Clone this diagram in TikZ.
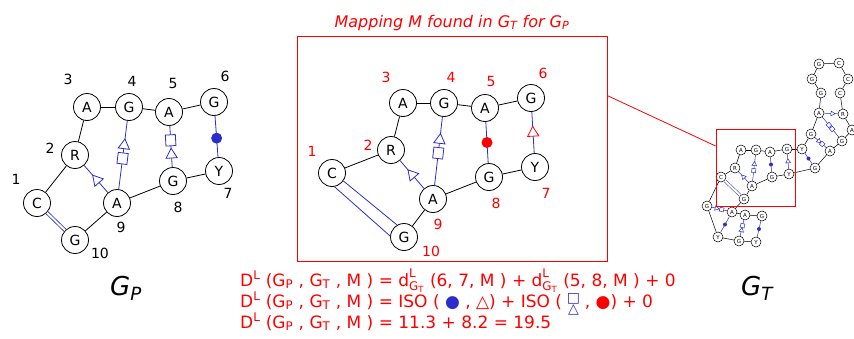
\documentclass[tikz,border=0pt]{standalone}
\usepackage{fontspec}
\usepackage{amsmath}
\setmainfont{DejaVu Sans}
\usetikzlibrary{shapes.geometric}
\definecolor{lwblue}{RGB}{45,45,205}
\definecolor{lwred}{RGB}{255,0,0}
\tikzset{
  nuc/.style={circle, draw, fill=white, line width=0.8pt, minimum size=27pt, inner sep=0pt, font=\fontsize{14}{14}\selectfont},
  snuc/.style={circle, draw, fill=white, line width=0.5pt, minimum size=10pt, inner sep=0pt, font=\fontsize{5.5}{5.5}\selectfont},
  num/.style={font=\fontsize{14}{14}\selectfont, inner sep=0pt},
  bb/.style={line width=0.8pt},
  bp/.style={draw=lwblue, line width=0.8pt},
  sbb/.style={line width=0.5pt},
  sbp/.style={draw=lwblue, line width=0.5pt},
  sugar/.style={regular polygon, regular polygon sides=3, shape border rotate=-90, draw=lwblue, fill=white, line width=0.8pt, minimum size=13pt, inner sep=0pt, sloped, allow upside down},
  hoog/.style={rectangle, draw=lwblue, fill=white, line width=0.8pt, minimum width=11pt, minimum height=10pt, inner sep=0pt, sloped, allow upside down},
  wc/.style={circle, fill=lwblue, minimum size=11pt, inner sep=0pt},
  ssugar/.style={sugar, minimum size=5.5pt, line width=0.5pt},
  shoog/.style={hoog, minimum width=4pt, minimum height=4pt, line width=0.5pt},
  swc/.style={wc, minimum size=4pt},
  eq/.style={text=lwred, font=\fontsize{17}{17}\selectfont, inner sep=0pt, anchor=base west},
  big/.style={font=\fontsize{26}{26}\selectfont\itshape, inner sep=0pt},
}
\newcommand\dlgt{$\text{d}^{\text{L}}_{\text{G}_{\text{T}}}$}
\newcommand\dlhead{D\textsuperscript{L} (G\textsubscript{P} , G\textsubscript{T} , M )}
\newcommand\hsstack{{\fontsize{14}{14}\selectfont\makebox[12pt]{\raisebox{-6.5pt}{△}}\hspace{-12pt}\makebox[12pt]{\raisebox{5pt}{□}}}}
\begin{document}
\begin{tikzpicture}[x=1pt,y=-1pt]
\useasboundingbox (0,0) rectangle (854,338);
\node[nuc] (pA3) at (87,107) {A};
\node[nuc] (pG4) at (129,107) {G};
\node[nuc] (pA5) at (169,112) {A};
\node[nuc] (pG6) at (214,102) {G};
\node[nuc] (pR2) at (75,155) {R};
\node[nuc] (pC1) at (37,203) {C};
\node[nuc] (pA9) at (117,203) {A};
\node[nuc] (pG8) at (173,181) {G};
\node[nuc] (pY7) at (219,171) {Y};
\node[nuc] (pG10) at (75,240) {G};
\foreach \a/\b in {pC1/pR2, pR2/pA3, pA3/pG4, pG4/pA5, pA5/pG6, pA9/pG8, pG8/pY7, pA9/pG10}
  \draw[bb] (\a) -- (\b);
\draw[bp] (pA9) -- node[sugar, pos=0.46] {} (pR2);
\draw[bp] (pA9) -- node[hoog, pos=0.45] {} node[sugar, pos=0.64] {} (pG4);
\draw[bp] (pG8) -- node[sugar, pos=0.3] {} node[hoog, pos=0.65] {} (pA5);
\draw[bp] (pG6) -- node[wc, pos=0.54] {} (pY7);
\draw[bp, double, double distance=2pt] (pC1) -- (pG10);
\foreach \n/\x/\y in {1/16/179, 2/50/148, 3/68/79, 4/132/81, 5/173/83, 6/225/76, 7/228/193, 8/178/207, 9/121/227, 10/100/253}
  \node[num] (pn\n) at (\x,\y) {\n};
\node[big] (gp) at (126,288) {G\textsubscript{P}};
\node[draw=lwred, line width=0.8pt, minimum width=310pt, minimum height=225pt, inner sep=0pt] (mbox) at (452,148.5) {};
\node[text=lwred, font=\fontsize{16}{16}\selectfont\itshape, anchor=base] (title) at (452,27) {Mapping M found in G\textsubscript{T} for G\textsubscript{P}};
\node[nuc] (mA3) at (403,103) {A};
\node[nuc] (mG4) at (444,103) {G};
\node[nuc] (mA5) at (485,108) {A};
\node[nuc] (mG6) at (531,98) {G};
\node[nuc] (mR2) at (391,150) {R};
\node[nuc] (mC1) at (332,173) {C};
\node[nuc] (mA9) at (433,199) {A};
\node[nuc] (mG8) at (489,177) {G};
\node[nuc] (mY7) at (535,167) {Y};
\node[nuc] (mG10) at (404,237) {G};
\foreach \a/\b in {mC1/mR2, mR2/mA3, mA3/mG4, mG4/mA5, mA5/mG6, mA9/mG8, mG8/mY7, mA9/mG10}
  \draw[bb] (\a) -- (\b);
\draw[bp] (mA9) -- node[sugar, pos=0.49] {} (mR2);
\draw[bp] (mA9) -- node[hoog, pos=0.47] {} node[sugar, pos=0.66] {} (mG4);
\draw[bp] (mA5) -- node[wc, fill=lwred, pos=0.5] {} (mG8);
\draw[bp] (mY7) -- node[sugar, draw=lwred, pos=0.49] {} (mG6);
\draw[bp] (mC1.-35) -- (mG10.120);
\draw[bp] (mC1.-80) -- (mG10.176);
\foreach \n/\x/\y in {1/312/151, 2/368/145, 3/386/77, 4/451/77, 5/491/81, 6/543/73, 7/546/193, 8/496/203, 9/438/224, 10/431/251}
  \node[num, text=lwred] (mn\n) at (\x,\y) {\n};
\foreach \n/\l/\x/\y in {tG1/G/819/64, tC1/C/839/63, tG2/G/812/79, tC2/C/848/79, tG3/G/821/93, tC3/C/840/93,
    tA1/A/819/113, tR1/R/843/114, tA2/A/852/130, tG4/G/811/134, tG5/G/842/141, tA3/A/830/151,
    tY1/Y/802/149, tG6/G/787/149, tG7/G/815/168, tY2/Y/789/174,
    tA4/A/741/150, tG8/G/756/150, tA5/A/770/152, tR2/R/735/168, tC4/C/721/177, tA6/A/752/186,
    tG9/G/772/177, tG10/G/744/199, tG11/G/707/206, tA7/A/732/212, tA8/A/745/215, tG12/G/762/216,
    tY3/Y/718/237, tG13/G/739/241, tY4/Y/756/242}
  \node[snuc] (\n) at (\x,\y) {\l};
\foreach \a/\b in {tG1/tC1, tG1/tG2, tC1/tC2, tG2/tG3, tC2/tC3, tG3/tA1, tC3/tR1, tR1/tA2, tA2/tG5,
    tA1/tG4, tG5/tA3, tG4/tY1, tY1/tG6, tA3/tG7, tG7/tY2, tG6/tA5, tA5/tG8, tG8/tA4, tA4/tR2,
    tR2/tC4, tA6/tG9, tG9/tY2, tA6/tG10, tC4/tG11, tG11/tY3, tY3/tG13, tG13/tY4, tA7/tA8,
    tA8/tG12, tA7/tG10}
  \draw[sbb] (\a) -- (\b);
\draw[sbp, double, double distance=1.5pt] (tG2) -- (tC2);
\draw[sbp, double, double distance=2pt] (tC4) -- (tG10);
\draw[sbp] (tA1) -- node[ssugar, pos=0.6] {} (tR1);
\draw[sbp] (tA1) -- node[shoog, pos=0.4] {} node[shoog, pos=0.6] {} (tG5);
\draw[sbp] (tG4) -- node[ssugar, pos=0.35] {} node[shoog, pos=0.65] {} (tA3);
\draw[sbp] (tY1) -- node[swc, pos=0.5] {} (tG7);
\draw[sbp] (tA6) -- node[ssugar, pos=0.5] {} (tR2);
\draw[sbp] (tA6) -- node[shoog, pos=0.4] {} node[ssugar, pos=0.65] {} (tG8);
\draw[sbp] (tA5) -- node[swc, pos=0.5] {} (tG9);
\draw[sbp] (tY2) -- node[ssugar, pos=0.5] {} (tG6);
\draw[sbp] (tG11) -- node[ssugar, pos=0.3] {} node[shoog, pos=0.65] {} (tA7);
\draw[sbp] (tY3) -- node[swc, pos=0.5] {} (tA7);
\draw[sbp] (tG13) -- node[ssugar, pos=0.35] {} node[shoog, pos=0.65] {} (tA8);
\draw[sbp] (tY4) -- node[swc, pos=0.5] {} (tG12);
\node[draw=lwred, line width=0.8pt, minimum width=79pt, minimum height=77pt, inner sep=0pt] (zbox) at (755.5,167.5) {};
\draw[lwred, line width=0.8pt] ([yshift=-60pt]mbox.north east) -- ([yshift=21.5pt]zbox.west);
\node[big] (gt) at (757,288) {G\textsubscript{T}};
\node[eq] (eq1) at (240,286) {\dlhead{} = \dlgt{} (6, 7, M ) + \dlgt{} (5, 8, M ) + 0};
\node[eq] (eq2) at (240,307) {\dlhead{} = ISO ( \textcolor{lwblue}{●} , △) + ISO ( \textcolor{lwblue}{\hsstack} , ●) + 0};
\node[eq] (eq3) at (240,328) {\dlhead{} = 11.3 + 8.2 = 19.5};
\end{tikzpicture}
\end{document}
